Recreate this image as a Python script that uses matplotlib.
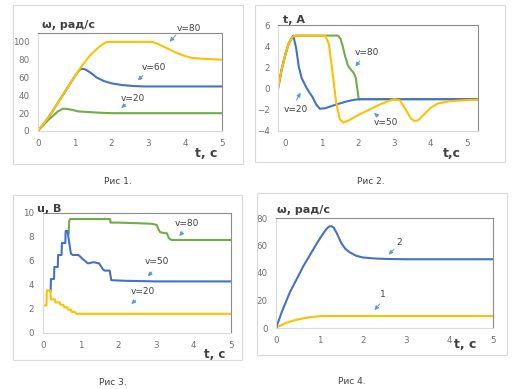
import matplotlib.pyplot as plt
from matplotlib.patches import Rectangle

# ---- data ----
# Fig 1: speed, rad/s
t1_v80 = [0, 0.2, 0.4, 0.6, 0.8, 1.0, 1.2, 1.4, 1.6, 1.75, 1.85, 1.95, 3.1, 3.25, 3.5, 3.75, 4.0, 4.2, 4.5, 5.0]
w1_v80 = [0, 10, 22, 35, 48, 61, 73, 84, 92, 97, 99.5, 100, 100, 98, 93, 88, 84, 82, 81, 80]
t1_v60 = [0, 0.2, 0.4, 0.6, 0.8, 1.0, 1.12, 1.2, 1.3, 1.45, 1.6, 1.8, 2.0, 2.3, 2.6, 2.9, 5.0]
w1_v60 = [0, 10, 22, 35, 48, 61, 68, 70, 69, 65, 60, 56, 53.5, 51.5, 50.5, 50, 50]
t1_v20 = [0, 0.3, 0.55, 0.68, 0.8, 0.95, 1.1, 1.4, 1.7, 2.0, 5.0]
w1_v20 = [0, 13, 22, 25, 24.8, 23.5, 22, 21.2, 20.5, 20, 20]

# Fig 2: current, A
t2_v50 = [-0.2, -0.1, 0.0, 0.1, 0.2, 0.3, 1.1, 1.2, 1.3, 1.4, 1.5, 1.6, 1.75, 2.0, 2.3, 2.6, 2.9, 3.0, 3.15, 3.3, 3.45, 3.55, 3.65, 3.8, 4.0, 4.2, 4.5, 4.9, 5.3]
i2_v50 = [0, 1.8, 3.2, 4.3, 4.9, 5, 5, 4.2, 1.5, -1.3, -2.9, -3.2, -3.0, -2.5, -2.0, -1.5, -1.1, -1, -1.1, -1.9, -2.8, -3.05, -3.0, -2.5, -1.8, -1.4, -1.2, -1.1, -1.05]
t2_v20 = [-0.2, -0.1, 0.0, 0.1, 0.22, 0.3, 0.37, 0.45, 0.55, 0.65, 0.75, 0.85, 0.95, 1.1, 1.4, 1.7, 1.9, 2.1, 5.3]
i2_v20 = [0, 1.8, 3.2, 4.3, 5, 3.8, 2.1, 1.0, 0.3, -0.3, -0.8, -1.5, -1.9, -1.85, -1.5, -1.2, -1.05, -1, -1]
t2_v80 = [-0.2, -0.1, 0.0, 0.1, 0.2, 0.3, 1.45, 1.52, 1.58, 1.65, 1.72, 1.8, 1.88, 1.94, 1.98, 2.02, 5.3]
i2_v80 = [0, 1.8, 3.2, 4.3, 4.9, 5, 5, 4.7, 4.0, 3.0, 2.2, 1.8, 1.5, 1.0, 0.0, -1, -1]

# Fig 3: voltage, V (stepped)
t3_v20 = [0, 0.1, 0.11, 0.2, 0.22, 0.32, 0.34, 0.45, 0.47, 0.55, 0.57, 0.65, 0.67, 0.75, 0.77, 0.85, 0.9, 5.0]
u3_v20 = [2.3, 2.3, 3.55, 3.55, 2.8, 2.8, 2.55, 2.55, 2.35, 2.35, 2.15, 2.15, 1.95, 1.95, 1.75, 1.75, 1.6, 1.6]
t3_v50 = [0.21, 0.22, 0.3, 0.31, 0.4, 0.41, 0.5, 0.51, 0.6, 0.61, 0.66, 0.7, 0.75, 0.8, 0.95, 1.05, 1.2, 1.35, 1.5, 1.6, 1.65, 1.78, 1.82, 2.2, 3.0, 5.0]
u3_v50 = [3.5, 4.5, 4.5, 5.5, 5.5, 6.5, 6.5, 7.5, 7.5, 8.5, 8.5, 7.6, 6.6, 6.5, 6.5, 6.2, 5.8, 5.9, 5.8, 5.3, 5.2, 5.2, 4.4, 4.35, 4.3, 4.3]
t3_v80 = [0.69, 0.7, 0.73, 0.8, 1.79, 1.8, 2.0, 2.5, 2.9, 3.03, 3.08, 3.12, 3.2, 3.3, 3.35, 3.42, 3.5, 5.0]
u3_v80 = [8.3, 9.3, 9.5, 9.5, 9.5, 9.2, 9.2, 9.15, 9.1, 9.0, 8.6, 8.4, 8.35, 8.3, 7.9, 7.75, 7.75, 7.75]

# Fig 4: speed, rad/s
t4_c2 = [0, 0.15, 0.32, 0.5, 0.63, 0.8, 0.94, 1.05, 1.15, 1.22, 1.28, 1.33, 1.4, 1.5, 1.6, 1.7, 1.85, 2.0, 2.3, 2.6, 3.0, 5.0]
w4_c2 = [0, 13, 26, 37, 45, 54, 61.5, 67, 71.5, 73.8, 74, 73, 69, 62, 57.5, 55, 52.5, 51.3, 50.5, 50.2, 50, 50]
t4_c1 = [0, 0.1, 0.2, 0.32, 0.45, 0.63, 0.8, 1.0, 1.05, 5.0]
w4_c1 = [0, 1.8, 3.3, 4.6, 5.8, 7.0, 7.9, 8.6, 8.7, 8.7]

YEL, BLU, GRN, ARR = '#FFC000', '#4472C4', '#70AD47', '#5B9BD5'
W, H = 530, 389

fig = plt.figure(figsize=(W / 100, H / 100), dpi=100)


def fx(x):
    return x / W


def fy(y):
    return 1 - y / H


def frame(x0, y0, x1, y1):
    fig.patches.append(Rectangle((fx(x0), fy(y1)), fx(x1 - x0), (y1 - y0) / H,
                                 transform=fig.transFigure, fill=False,
                                 ec='#d9d9d9', lw=0.8))


def panel(x0, y0, x1, y1, xlim, ylim, yticks):
    ax = fig.add_axes([fx(x0), fy(y1), fx(x1 - x0), (y1 - y0) / H])
    ax.set_xlim(*xlim)
    ax.set_ylim(*ylim)
    ax.set_xticks([0, 1, 2, 3, 4, 5])
    ax.set_yticks(yticks)
    ax.tick_params(length=0, labelsize=6.3, labelcolor='#707070', pad=6)
    for s in ('left', 'bottom'):
        ax.spines[s].set_color('#d9d9d9')
    for s in ('top', 'right'):
        ax.spines[s].set_color('#8c8c8c')
    for s in ax.spines.values():
        s.set_linewidth(0.8)
    return ax


def note(ax, text, txy, tail, tip):
    ax.text(*txy, text, fontsize=6.5, color='#404040', ha='center', va='center')
    ax.annotate('', xy=tip, xytext=tail, annotation_clip=False,
                arrowprops=dict(arrowstyle='-|>', color=ARR, lw=0.7, mutation_scale=6))


def label(x, y, text, size=8.5, bold=True, ha='left'):
    fig.text(fx(x), fy(y), text, fontsize=size, color='#404040', ha=ha, va='center',
             fontweight='bold' if bold else 'normal')


frame(13, 5, 243, 164)
frame(255, 5, 505, 162)
frame(13, 195, 242, 360)
frame(257, 193, 507, 355)

lw = 1.5

# Fig 1
ax1 = panel(37.7, 33, 222, 131, (0, 5), (0, 110), [0, 20, 40, 60, 80, 100])
ax1.plot(t1_v20, w1_v20, color=GRN, lw=lw)
ax1.plot(t1_v60, w1_v60, color=BLU, lw=lw)
ax1.plot(t1_v80, w1_v80, color=YEL, lw=lw)
note(ax1, 'v=80', (4.1, 115), (3.8, 110), (3.53, 98))
note(ax1, 'v=60', (3.15, 71.5), (2.91, 64.4), (2.66, 54.6))
note(ax1, 'v=20', (2.57, 37), (2.44, 32), (2.21, 23.7))
label(41.7, 25, 'ω, рад/с', 8)
label(195, 153.3, 't, с', 9)

# Fig 2
ax2 = panel(278, 25, 478, 131, (-0.2, 5.3), (-4, 6), [-4, -2, 0, 2, 4, 6])
ax2.plot(t2_v80, i2_v80, color=GRN, lw=lw)
ax2.plot(t2_v20, i2_v20, color=BLU, lw=lw)
ax2.plot(t2_v50, i2_v50, color=YEL, lw=lw)
note(ax2, 'v=80', (2.24, 3.36), (2.1, 2.8), (1.88, 1.9))
note(ax2, 'v=20', (0.29, -2.0), (0.27, -1.3), (0.46, -0.16))
note(ax2, 'v=50', (2.77, -3.24), (2.61, -2.77), (2.38, -2.14))
label(282.7, 20, 't, A', 8)
label(443, 153.3, 't,c', 9)

# Fig 3
ax3 = panel(42.7, 213, 231, 333, (0, 5), (0, 10), [0, 2, 4, 6, 8, 10])
ax3.plot(t3_v80, u3_v80, color=GRN, lw=lw)
ax3.plot(t3_v50, u3_v50, color=BLU, lw=lw)
ax3.plot(t3_v20, u3_v20, color=YEL, lw=lw)
note(ax3, 'v=80', (3.82, 9.14), (3.77, 8.6), (3.58, 7.9))
note(ax3, 'v=50', (3.02, 6.0), (2.95, 5.25), (2.74, 4.55))
note(ax3, 'v=20', (2.67, 3.44), (2.52, 2.9), (2.3, 2.25))
label(37.3, 208.8, 'u, В', 8)
label(204, 354.5, 't, с', 8.5)

# Fig 4
ax4 = panel(276, 218, 493, 328, (0, 5), (0, 80), [0, 20, 40, 60, 80])
ax4.plot(t4_c1, w4_c1, color=YEL, lw=lw)
ax4.plot(t4_c2, w4_c2, color=BLU, lw=lw)
note(ax4, '2', (2.84, 62.3), (2.76, 58.7), (2.55, 51.9))
note(ax4, '1', (2.47, 24.7), (2.43, 19.1), (2.23, 11.4))
label(276.7, 210, 'ω, рад/с', 8)
label(454, 345, 't, с', 9)

# captions
label(118, 181, 'Рис 1.', 6.5, False, 'center')
label(370.7, 181, 'Рис 2.', 6.5, False, 'center')
label(113, 382.3, 'Рис 3.', 6.5, False, 'center')
label(351.7, 381.7, 'Рис 4.', 6.5, False, 'center')

fig.savefig('out.png', dpi=100)
